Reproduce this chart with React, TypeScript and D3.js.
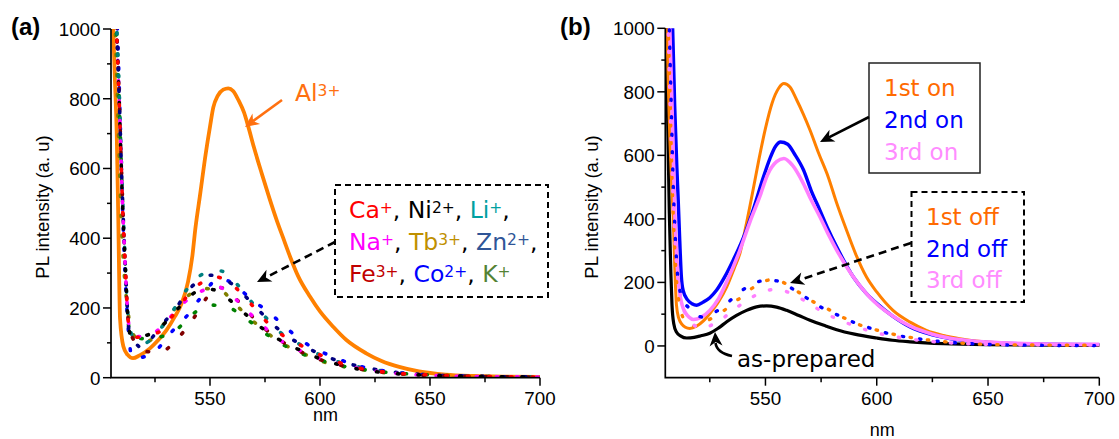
import React from 'react';
import * as d3 from 'd3';

type P = [number, number];

// ---------- axis ticks ----------
const X_MAJOR = [550, 600, 650, 700];
const X_MINOR = [525, 575, 625, 675];
const Y_MAJOR = [0, 200, 400, 600, 800, 1000];
const Y_MINOR = [100, 300, 500, 700, 900];

// ---------- panel (a) ----------
const al3: P[] = [[505.2,1100],[506,1000],[506.8,850],[507.6,700],[508.3,460],[509.1,170],[510.6,90],[512.5,66],[515,56],[518,64],[522.7,84],[526.5,108],[530.3,137],[534,175],[537.1,213],[540,275],[542,350],[543.3,425],[545.5,525],[548,640],[550,720],[551.5,775],[553.5,808],[556,826],[558.3,830],[560.5,822],[563,795],[565.5,760],[567.4,720],[570,660],[573.5,586],[577,515],[580.3,452],[583.3,400],[586.4,347],[590,292],[595.5,232],[600,190],[606,146],[612,108],[621,70],[628,48],[636,31],[645,18],[657,9],[670,5],[685,3],[700,2]];

const caA: P[] = [[506.8,1100],[507.8,950],[508.8,780],[509.6,620],[510.3,480],[511,380],[511.6,300],[512.1,230],[512.6,180],[513.5,135],[515,120],[517,116],[520,118],[524,125],[527.3,133],[531,162],[535,194],[538.5,225],[541.7,250],[546,272],[551.2,290],[556,284],[560.9,263],[565,236],[569.7,204],[574,172],[578,146],[583.5,120],[589,101],[593.5,85],[598.5,70],[603,57],[607.6,46],[615,32],[625,20],[635,13],[650,8],[670,4],[700,2]];
const niA: P[] = [[506.8,1100],[507.8,960],[508.7,800],[509.5,640],[510.3,490],[511,390],[511.6,305],[512.2,220],[512.9,150],[514,122],[516,117],[520,120],[525,132],[530,160],[535,195],[540,228],[544.4,249],[549,254],[553.8,248],[558,228],[563.2,199],[568,172],[572.7,147],[577.5,125],[582.6,105],[587.5,89],[592.4,75],[597,62],[601.5,51],[610,35],[620,22],[630,14],[645,8],[665,4],[700,2]];
const liA: P[] = [[507,1100],[508,950],[508.9,790],[509.7,630],[510.5,480],[511.2,370],[511.8,280],[512.5,200],[513.5,140],[516,110],[519,97],[520.5,99],[524,113],[527.5,140],[531.5,175],[537,231],[541,265],[545.5,293],[550,302],[555,306],[559.5,285],[564,256],[568,224],[572.4,192],[577,162],[581,135],[586,113],[591,95],[596,78],[600,65],[610,42],[620,28],[630,18],[640,12],[650,8],[670,4],[700,2]];
const naA: P[] = [[506.8,1100],[507.8,955],[508.8,785],[509.6,625],[510.3,485],[511,385],[511.6,300],[512.2,225],[512.8,170],[513.8,132],[516,118],[520,118],[525,130],[530,160],[535,195],[540,225],[545,245],[549,255],[553.5,261],[558,245],[562.9,218],[567.5,188],[572.4,159],[577,132],[581.8,108],[587,90],[592,75],[597,62],[602,51],[610,37],[620,24],[630,15],[645,8],[665,4],[700,2]];
const tbA: P[] = [[506.3,1100],[507.2,950],[507.8,830],[508.4,700],[509,580],[509.6,460],[510.3,370],[511,300],[511.8,240],[512.8,185],[514,145],[516,115],[518,102],[520,100],[523,108],[527,135],[531,175],[535,204],[540,235],[546.2,256],[551,254],[555.8,247],[560,220],[565.1,189],[570,160],[574.5,137],[579,114],[584,94],[589,78],[594,65],[599,52],[603.8,41],[610,33],[620,22],[630,14],[645,8],[665,4],[700,2]];
const znA: P[] = [[506.9,1100],[507.9,950],[508.8,790],[509.6,630],[510.4,485],[511.1,380],[511.7,295],[512.3,215],[512.9,150],[514,118],[516,100],[519.7,84],[522.5,105],[525.8,132],[530,165],[534.9,202],[538,232],[541.7,261],[546,282],[550.3,294],[555,285],[560.6,266],[565,240],[570,208],[575,175],[580,145],[585,120],[590,100],[595,83],[600,68],[610,45],[620,30],[630,19],[645,10],[665,5],[700,2]];
const feA: P[] = [[506.9,1100],[507.9,950],[508.8,790],[509.6,630],[510.4,485],[511.1,380],[511.7,295],[512.3,215],[513,150],[514.5,118],[516.5,100],[518.5,85],[521.2,75],[525,74],[529.5,79],[534,105],[538.3,134],[542,165],[545,194],[548,225],[551.5,253],[555,258],[558,250],[562,225],[566,198],[570,170],[575,140],[580,115],[585,95],[590,78],[595,64],[600,52],[610,35],[620,23],[630,15],[645,8],[665,4],[700,2]];
const coA: P[] = [[507.3,1100],[508.3,930],[509.2,730],[510,540],[510.8,390],[511.6,270],[512.5,170],[513.5,95],[514.4,58],[517,55],[520,60],[524,70],[528,95],[532,127],[536,155],[540.6,185],[544,215],[548,247],[551.5,275],[555,283],[558,278],[562,262],[567,235],[572,210],[577.3,185],[582,158],[586.7,132],[591,110],[596,89],[601,73],[606,60],[615,38],[625,24],[635,15],[650,8],[670,4],[700,2]];
const kA: P[] = [[506.8,1100],[507.8,955],[508.8,785],[509.6,625],[510.4,480],[511.1,375],[511.7,290],[512.3,210],[513,150],[514.5,125],[516,115],[520,112],[524,112],[528,118],[532.6,127],[537,150],[541.7,180],[546,198],[551.2,208],[555,206],[560.9,194],[565.5,172],[570.5,151],[575,128],[579.5,108],[584.5,90],[589.4,75],[594,63],[599.2,53],[603.5,44],[608.3,36],[615,28],[625,19],[635,13],[650,8],[670,4],[700,2]];

// ---------- panel (b) ----------
const prepB: P[] = [[505.3,1060],[505.8,820],[506.3,620],[506.8,420],[507.5,230],[508,130],[508.8,70],[510,44],[512,31],[514.6,25],[518,27],[521,32],[525,40],[529,57],[532.6,76],[537,96],[541.5,112],[546,123],[550.5,126],[555,122],[559.5,112],[565,96],[570,81],[577,63],[582,51],[590,37],[600,25],[607,18],[615,13],[630,7],[650,4],[700,2]];
const on1B: P[] = [[505.4,1080],[506.2,860],[507,660],[507.8,520],[508.6,396],[509.3,240],[510,130],[511,88],[512.5,68],[514,59],[516,55],[519,62],[522,78],[525,102],[529,140],[532.6,186],[536,245],[538.5,291],[541,370],[544,475],[547,585],[550,685],[553,765],[556,812],[558.3,826],[561,815],[564,775],[567,730],[570,680],[574,605],[578.2,532],[582,450],[586.4,365],[590.5,290],[595.4,217],[600,170],[607.3,112],[615,75],[622.3,49],[630,33],[637.3,23],[648,13],[660,7.5],[675,4.5],[700,3]];
const on2B: P[] = [[507.8,1080],[508.3,1000],[509.2,760],[510.2,560],[510.8,459],[511.5,330],[512.2,220],[513,175],[515,145],[517,133],[519.1,128],[522,138],[525,152],[528,175],[531.5,215],[535.5,270],[540.8,354],[545,440],[549,530],[552,590],[554.5,628],[556.8,642],[560,635],[563,605],[567.1,554],[570.5,490],[574.5,427],[578,370],[582,312],[589.5,217],[595,168],[600,134],[607,95],[615,60],[625,35],[637,19],[650,11],[670,6],[700,4]];
const on3B: P[] = [[506.5,1080],[507,1000],[508,760],[508.8,540],[509.4,396],[510.3,260],[511.2,180],[512.5,130],[514,105],[515.8,90],[517.6,83],[521,90],[525,112],[529,150],[532.6,202],[538.5,301],[543,390],[547.4,469],[551,540],[555,580],[558.3,590],[562,570],[567,512],[570.5,460],[574.5,406],[578,355],[582,302],[589.5,217],[595,168],[600,132],[607,95],[615,62],[625,37],[637,20],[650,12],[670,7],[700,5]];
const off1B: P[] = [[506,1080],[507,820],[508,530],[509,340],[510,210],[511.5,125],[513,88],[515,66],[518,62],[522,72],[526.7,91],[530,105],[532.6,118],[535.5,137],[538.5,150],[542,172],[546,190],[550.5,206],[553,209],[555,207],[558.8,197],[563,178],[568,155],[572,137],[577.6,118],[582,100],[586.6,84],[592.4,66],[600,50],[608,36],[615,27],[624,18],[640,8],[655,4],[700,2]];
const off2B: P[] = [[506.5,1080],[507.5,800],[508.5,520],[509.5,340],[510.5,225],[512,162],[513.5,136],[515.3,122],[518,100],[522,91],[526,102],[529.6,116],[534,142],[538.5,170],[542.5,188],[546.7,202],[551,207],[555,205],[558.8,195],[562.5,178],[566.5,160],[570.7,141],[575,122],[579.7,106],[585,89],[590,73],[595,61],[600,49],[610,32],[620,21],[630,13],[645,6],[660,3],[700,1]];
const off3B: P[] = [[506,1080],[507,800],[508,560],[509,380],[510,260],[511.5,170],[513.5,110],[515.3,85],[518,65],[520,57],[522,55],[525,63],[528,74],[530.3,83],[534,105],[538.5,128],[542.5,148],[546.7,163],[551,175],[555,178],[559,172],[563.2,160],[567,145],[571,128],[575,110],[580,92],[585,77],[590,63],[595,51],[600,41],[610,27],[620,17],[630,11],[645,6],[660,4],[700,3]];

// ---------- legend text ----------
type Seg = { t: string; c: string; sup?: boolean };
const LEG_A: Seg[][] = [
  [{t:'Ca',c:'#FF0000'},{t:'+',c:'#FF0000',sup:true},{t:', ',c:'#000'},{t:'Ni',c:'#000'},{t:'2+',c:'#000',sup:true},{t:', ',c:'#000'},{t:'Li',c:'#00A0A0'},{t:'+',c:'#00A0A0',sup:true},{t:',',c:'#000'}],
  [{t:'Na',c:'#FF00FF'},{t:'+',c:'#FF00FF',sup:true},{t:', ',c:'#000'},{t:'Tb',c:'#BF9000'},{t:'3+',c:'#BF9000',sup:true},{t:', ',c:'#000'},{t:'Zn',c:'#2F5597'},{t:'2+',c:'#2F5597',sup:true},{t:',',c:'#000'}],
  [{t:'Fe',c:'#C00000'},{t:'3+',c:'#C00000',sup:true},{t:', ',c:'#000'},{t:'Co',c:'#0000FF'},{t:'2+',c:'#0000FF',sup:true},{t:', ',c:'#000'},{t:'K',c:'#548235'},{t:'+',c:'#548235',sup:true}],
];
const LEG_ON = [['1st on','#FF6A00'],['2nd on','#0000FF'],['3rd on','#FF8CFF']];
const LEG_OFF = [['1st off','#FF6A00'],['2nd off','#0000FF'],['3rd off','#FF8CFF']];

const AX_FONT = "Arial, 'Liberation Sans', sans-serif";
const LG_FONT = "'DejaVu Sans', Verdana, sans-serif";

function stealth(tx: number, ty: number, fx: number, fy: number, L = 14, Wd = 6.5, notch = 4) {
  const a = Math.atan2(ty - fy, tx - fx);
  const ux = Math.cos(a), uy = Math.sin(a);
  const px = -uy, py = ux;
  const bx = tx - ux * L, by = ty - uy * L;
  const nx = tx - ux * (L - notch), ny = ty - uy * (L - notch);
  return `M${tx},${ty}L${bx + px * Wd},${by + py * Wd}L${nx},${ny}L${bx - px * Wd},${by - py * Wd}Z`;
}

function Arrow({ fx, fy, tx, ty, color, dash }: { fx: number; fy: number; tx: number; ty: number; color: string; dash?: string }) {
  const a = Math.atan2(ty - fy, tx - fx);
  const ex = tx - Math.cos(a) * 10, ey = ty - Math.sin(a) * 10;
  return (
    <g>
      <line x1={fx} y1={fy} x2={ex} y2={ey} stroke={color} strokeWidth={2.6} strokeDasharray={dash} />
      <path d={stealth(tx, ty, fx, fy)} fill={color} />
    </g>
  );
}

function Rich({ x, y, segs, size, supSize }: { x: number; y: number; segs: Seg[]; size: number; supSize: number }) {
  const up = 5.5;
  let shifted = false;
  const kids = segs.map((s, i) => {
    if (s.sup) {
      shifted = true;
      return <tspan key={i} dy={-up} fontSize={supSize} fill={s.c}>{s.t}</tspan>;
    }
    const dy = shifted ? up : 0;
    shifted = false;
    return <tspan key={i} dy={dy} fill={s.c}>{s.t}</tspan>;
  });
  return <text x={x} y={y} fontFamily={LG_FONT} fontSize={size} style={{ whiteSpace: 'pre' }}>{kids}</text>;
}

function Axes({ x, y, yMin, nmY, ylabX }: { x: any; y: any; yMin: number; nmY: number; ylabX: number }) {
  const [x0, x1] = x.range();
  const yTop = y(1000), yBot = y(yMin);
  return (
    <g fontFamily={AX_FONT} fill="#000">
      <path d={`M${x0},${yTop}V${yBot}H${x1}`} fill="none" stroke="#000" strokeWidth={1.7} />
      {Y_MAJOR.map(v => (
        <g key={'ym' + v}>
          <line x1={x0 - 8} x2={x0} y1={y(v)} y2={y(v)} stroke="#000" strokeWidth={1.5} />
          <text x={x0 - 10.5} y={y(v) + 6.8} fontSize={18.8} textAnchor="end">{v}</text>
        </g>
      ))}
      {Y_MINOR.map(v => <line key={'yn' + v} x1={x0 - 4} x2={x0} y1={y(v)} y2={y(v)} stroke="#000" strokeWidth={1.5} />)}
      {X_MAJOR.map(v => (
        <g key={'xm' + v}>
          <line x1={x(v)} x2={x(v)} y1={yBot} y2={yBot + 8} stroke="#000" strokeWidth={1.5} />
          <text x={x(v)} y={yBot + 27.5} fontSize={18.8} textAnchor="middle">{v}</text>
        </g>
      ))}
      {X_MINOR.map(v => <line key={'xn' + v} x1={x(v)} x2={x(v)} y1={yBot} y2={yBot + 4.5} stroke="#000" strokeWidth={1.5} />)}
      <text x={(x0 + x1) / 2} y={nmY} fontSize={18} textAnchor="middle">nm</text>
      <text transform={`translate(${ylabX},207) rotate(-90)`} fontSize={18.5} textAnchor="middle">PL intensity (a. u)</text>
    </g>
  );
}

export default function App() {
  const xa = d3.scaleLinear().domain([505, 700]).range([111, 540]);
  const ya = d3.scaleLinear().domain([0, 1000]).range([377.7, 29]);
  const xb = d3.scaleLinear().domain([505, 700]).range([665.3, 1099.3]);
  const yb = d3.scaleLinear().domain([-100, 1000]).range([377.7, 28.3]);

  const la = d3.line<P>().x(d => xa(d[0])).y(d => ya(d[1])).curve(d3.curveMonotoneX);
  const lb = d3.line<P>().x(d => xb(d[0])).y(d => yb(d[1])).curve(d3.curveMonotoneX);

  const dotsA: [P[], string][] = [
    [tbA, '#808000'], [kA, '#008000'], [liA, '#008080'], [coA, '#0000FF'], [feA, '#800000'],
    [znA, '#000080'], [naA, '#FF00FF'], [niA, '#000000'], [caA, '#FF0000'],
  ];

  return (
    <svg width={1119} height={439} style={{ position: 'absolute', left: 0, top: 0, display: 'block', background: '#fff' }}>
      <defs>
        <clipPath id="clipA"><rect x={111} y={ya(1000)} width={540 - 111 + 2} height={ya(0) - ya(1000)} /></clipPath>
        <clipPath id="clipB"><rect x={665.3} y={yb(1000)} width={1099.3 - 665.3 + 2} height={yb(-100) - yb(1000)} /></clipPath>
      </defs>
      <rect x={0} y={0} width={1119} height={439} fill="#fff" />

      {/* Panel (a) */}
      <g clipPath="url(#clipA)">
        <path d={la(al3) || ''} fill="none" stroke="#FF8000" strokeWidth={3.8} />
        {dotsA.map(([d, c], i) => (
          <path key={i} d={la(d) || ''} fill="none" stroke={c} strokeWidth={3.6} strokeLinecap="round" strokeDasharray={`1.6 ${18.5 + (i % 3) * 0.7}`} strokeDashoffset={i * 2.3} />
        ))}
      </g>
      <Axes x={xa} y={ya} yMin={0} nmY={421} ylabX={49} />
      <text x={11} y={35} fontFamily={AX_FONT} fontSize={24} fontWeight="bold">(a)</text>

      <rect x={335} y={185} width={213} height={112} fill="#fff" stroke="#000" strokeWidth={2} strokeDasharray="6 4" />
      {LEG_A.map((segs, i) => <Rich key={i} x={349} y={218 + i * 32} segs={segs} size={23.5} supSize={15.5} />)}
      <Arrow fx={335} fy={242} tx={257} ty={282} color="#000" dash="8 5" />

      <text x={295} y={101} fontFamily={LG_FONT} fontSize={23.5} fill="#FF7010" style={{ whiteSpace: 'pre' }}>
        Al<tspan dy={-5.5} fontSize={15.5}>3+</tspan>
      </text>
      <Arrow fx={282} fy={100} tx={245} ty={127} color="#FF7010" />

      {/* Panel (b) */}
      <g clipPath="url(#clipB)">
        <path d={lb(prepB) || ''} fill="none" stroke="#000" strokeWidth={3.2} />
        <path d={lb(on1B) || ''} fill="none" stroke="#FF8000" strokeWidth={3} />
        <path d={lb(on2B) || ''} fill="none" stroke="#0000FF" strokeWidth={3.4} />
        <path d={lb(on3B) || ''} fill="none" stroke="#FF7FFF" strokeWidth={3.6} />
        <path d={lb(off1B) || ''} fill="none" stroke="#FF8000" strokeWidth={3.4} strokeLinecap="round" strokeDasharray="1.4 16" />
        <path d={lb(off2B) || ''} fill="none" stroke="#0000FF" strokeWidth={3.4} strokeLinecap="round" strokeDasharray="1.4 16" strokeDashoffset={8} />
        <path d={lb(off3B) || ''} fill="none" stroke="#FF7FFF" strokeWidth={3.4} strokeLinecap="round" strokeDasharray="1.4 16" strokeDashoffset={4} />
      </g>
      <Axes x={xb} y={yb} yMin={-100} nmY={436} ylabX={598} />
      <text x={560} y={35} fontFamily={AX_FONT} fontSize={24} fontWeight="bold">(b)</text>

      <rect x={869} y={63} width={111} height={110} fill="#fff" stroke="#222" strokeWidth={1.5} />
      {LEG_ON.map(([t, c], i) => (
        <text key={t} x={884} y={96 + i * 32} fontFamily={LG_FONT} fontSize={23} fill={c}>{t}</text>
      ))}
      <Arrow fx={869} fy={117} tx={820} ty={142} color="#000" />

      <rect x={911.5} y={192} width={112.5} height={110} fill="#fff" stroke="#000" strokeWidth={2} strokeDasharray="6 4" />
      {LEG_OFF.map(([t, c], i) => (
        <text key={t} x={926} y={225 + i * 31.7} fontFamily={LG_FONT} fontSize={23} fill={c}>{t}</text>
      ))}
      <Arrow fx={911} fy={243} tx={790} ty={283} color="#000" dash="8 5" />

      <text x={737} y={367} fontFamily={LG_FONT} fontSize={23} fill="#000">as-prepared</text>
      <path d="M732,356 Q717,353 715.5,343" fill="none" stroke="#000" strokeWidth={2.6} />
      <path d={stealth(715, 332, 716.5, 352)} fill="#000" />
    </svg>
  );
}
